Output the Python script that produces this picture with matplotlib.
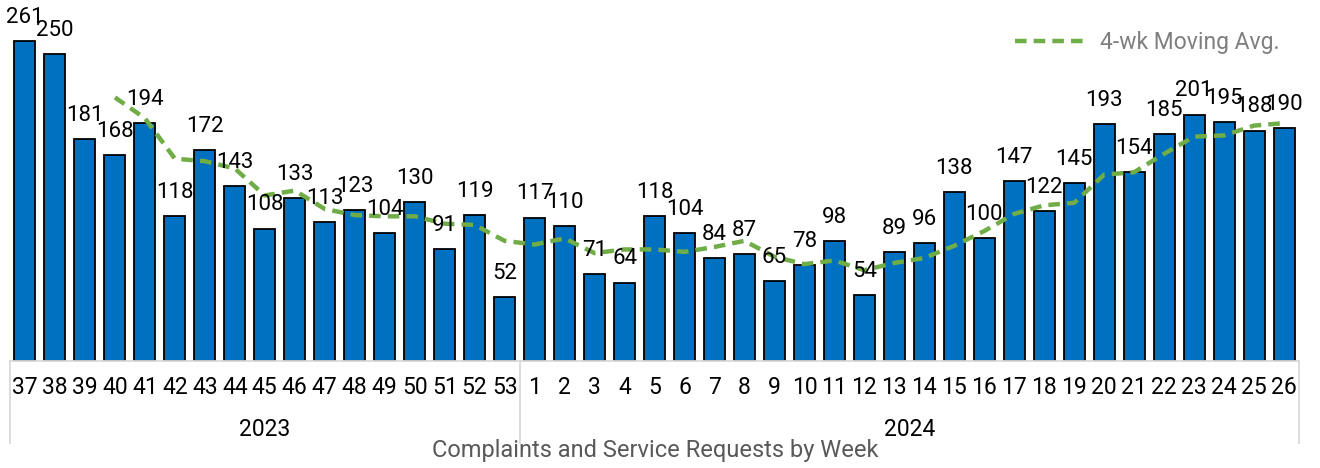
import numpy as np
import matplotlib.pyplot as plt
from matplotlib import font_manager

weeks_2023 = [37, 38, 39, 40, 41, 42, 43, 44, 45, 46, 47, 48, 49, 50, 51, 52, 53]
weeks_2024 = list(range(1, 27))
counts = [261, 250, 181, 168, 194, 118, 172, 143, 108, 133, 113, 123, 104, 130, 91, 119, 52,
          117, 110, 71, 64, 118, 104, 84, 87, 65, 78, 98, 54, 89, 96, 138, 100, 147, 122,
          145, 193, 154, 185, 201, 195, 188, 190]
# 4-wk moving average as plotted (starts at week 40)
moving_avg = [215, 198, 165, 163, 157, 135, 139, 124, 119, 118, 118, 112, 111, 98,
              95, 100, 88, 91, 91, 89, 93, 98, 85, 79, 82, 74, 80, 84, 94, 106, 120, 127,
              129, 152, 154, 169, 183, 184, 192, 194]
years = ["2023", "2024"]
title = "Complaints and Service Requests by Week"

names = {f.name for f in font_manager.fontManager.ttflist}
fam = ["Liberation Sans Narrow", "DejaVu Sans"] if "Liberation Sans Narrow" in names else ["Roboto", "DejaVu Sans"]
plt.rcParams['font.family'] = fam

W, H = 1320, 468
fig = plt.figure(figsize=(W / 100, H / 100), dpi=100)
x0, x1, ybase = 10, 1299, 361
ymax = 280
ppu = 320 / 261
ytop = ybase - ymax * ppu
ax = fig.add_axes([x0 / W, (H - ybase) / H, (x1 - x0) / W, (ybase - ytop) / H])

labels = weeks_2023 + weeks_2024
x = np.arange(len(counts))
ax.bar(x, counts, width=0.7, color="#0070C0", edgecolor="black", linewidth=1.3, zorder=2)
ax.plot(x[3:], moving_avg, color="#70AD47", linewidth=3.2, dashes=(2.6, 1.6), zorder=3,
        label="4-wk Moving Avg.")
for xi, v in zip(x, counts):
    ax.annotate(str(v), (xi, v), xytext=(0, 17), textcoords="offset points",
                ha="center", va="center", fontsize=16, color="black", zorder=4)

ax.set_xlim(-0.5, len(counts) - 0.5)
ax.set_ylim(0, ymax)
ax.set_yticks([])
ax.set_xticks(x)
ax.set_xticklabels([str(l) for l in labels], fontsize=16.5)
ax.tick_params(axis="x", length=0, pad=11)
for s in ["top", "right", "left"]:
    ax.spines[s].set_visible(False)
ax.spines["bottom"].set_color("#D9D9D9")
ax.spines["bottom"].set_linewidth(1.3)

# year group labels and separators
n23 = len(weeks_2023)
trans = ax.get_xaxis_transform()
for xs in [-0.5, n23 - 0.5, len(counts) - 0.5]:
    ax.plot([xs, xs], [0, -(443 - ybase) / (ybase - ytop)], transform=trans,
            color="#D9D9D9", linewidth=1.3, clip_on=False)
yl = -(429 - ybase) / (ybase - ytop)
ax.text((n23 - 1) / 2, yl, years[0], transform=trans, ha="center", va="center", fontsize=16.5)
ax.text((n23 + len(counts) - 1) / 2, yl, years[1], transform=trans, ha="center", va="center", fontsize=16.5)

fig.text(655 / W, 1 - 450 / H, title, ha="center", va="center", fontsize=17, color="#595959")

leg = ax.legend(loc="upper right", bbox_to_anchor=(1300 / W, 1 - 10 / H), bbox_transform=fig.transFigure,
                frameon=False, fontsize=16.5, handlelength=3.2, handletextpad=0.5)
for t in leg.get_texts():
    t.set_color("#7F7F7F")

fig.savefig("out.png", dpi=100)
